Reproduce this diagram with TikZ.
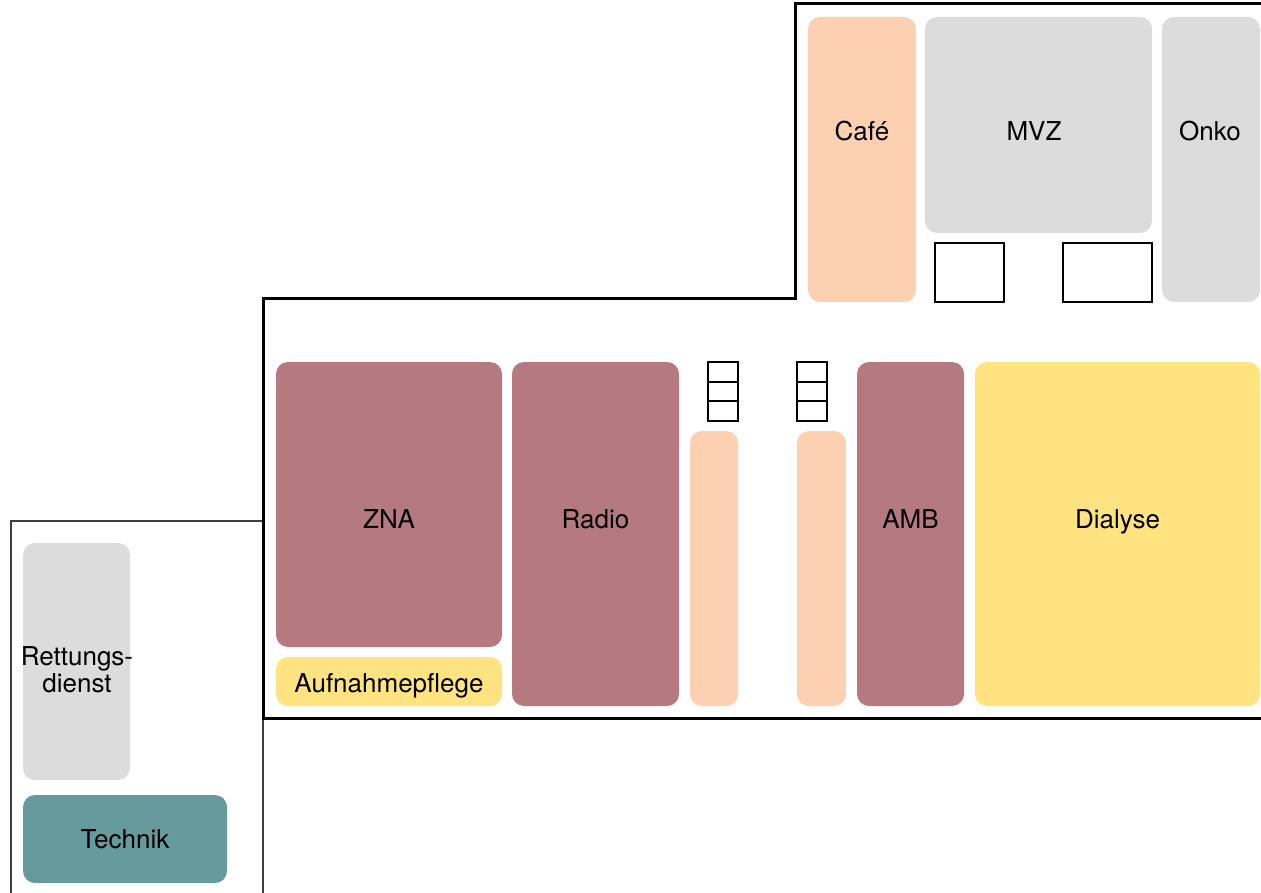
\documentclass[tikz,border=0pt]{standalone}
\usepackage{fontspec}
\setmainfont{TeX Gyre Heros}

\definecolor{roomMauve}{HTML}{B57A7F}
\definecolor{roomPeach}{HTML}{FDD0B2}
\definecolor{roomGray}{HTML}{DCDCDC}
\definecolor{roomYellow}{HTML}{FEE380}
\definecolor{roomTeal}{HTML}{679A9C}

\begin{document}
\begin{tikzpicture}[x=1pt,y=-1pt,
	room/.style={rounded corners=12pt, inner sep=0pt, fill=#1},
	dims/.style 2 args={minimum width=#1pt, minimum height=#2pt},
	roomtext/.style={font=\fontsize{26}{27}\selectfont, align=center, inner sep=0pt},
	oneline/.style={text height=18.6pt, text depth=0pt},
	wall/.style={line width=3pt},
	annex/.style={line width=1.5pt, draw=black!75},
	boxline/.style={line width=2.4pt}]
		\useasboundingbox (0,0) rectangle (1261,893);
		% Gebaeude
		\draw[annex] (11,893) -- (11,521) -- (263,521);
		\draw[annex] (263,718) -- (263,893);
		\draw[wall] (1262,718) -- (263,718) -- (263,299) -- (795,299) -- (795,4) -- (1262,4);
		% oberer Teil
		\node[room=roomPeach, dims={108}{285}] (cafe) at (862,159.5) {};
		\node[room=roomGray, dims={227}{216}] (mvz) at (1038.5,125) {};
		\node[room=roomGray, dims={98}{285}] (onko) at (1211,159.5) {};
		\node[draw, boxline, inner sep=0pt, dims={69}{59}] (lift1) at (969.5,272.5) {};
		\node[draw, boxline, inner sep=0pt, dims={89}{59}] (lift2) at (1107.5,272.5) {};
		\node[roomtext, oneline] (cafe-t) at (862,131) {Café};
		\node[roomtext, oneline] (mvz-t) at (1034,131) {MVZ};
		\node[roomtext, oneline] (onko-t) at (1210,131) {Onko};
		% unterer Teil
		\node[room=roomMauve, dims={226}{285}] (zna) at (389,504.5) {};
		\node[room=roomYellow, dims={226}{49}] (aufnahme) at (389,681.5) {};
		\node[room=roomMauve, dims={167}{344}] (radio) at (595.5,534) {};
		\node[room=roomPeach, dims={48}{275}] (flur1) at (714,568.5) {};
		\node[room=roomPeach, dims={49}{275}] (flur2) at (821.5,568.5) {};
		\node[room=roomMauve, dims={107}{344}] (amb) at (910.5,534) {};
		\node[room=roomYellow, dims={285}{344}] (dialyse) at (1117.5,534) {};
		\foreach \sx in {708,797}{
			\draw[boxline] (\sx,362) rectangle ++(30,59);
			\draw[boxline] (\sx,382) -- ++(30,0) (\sx,401) -- ++(30,0);
		}
		\node[roomtext, oneline] (zna-t) at (389,519) {ZNA};
		\node[roomtext, oneline] (aufnahme-t) at (389,683) {Aufnahmepflege};
		\node[roomtext, oneline] (radio-t) at (595.5,519) {Radio};
		\node[roomtext, oneline] (amb-t) at (910.5,519) {AMB};
		\node[roomtext, oneline] (dialyse-t) at (1117.5,519) {Dialyse};
		% Anbau
		\node[room=roomGray, dims={107}{237}] (rett) at (76.5,661.5) {};
		\node[room=roomTeal, dims={204}{88}] (technik) at (125,839) {};
		\node[roomtext] (rett-t) at (77,670) {Rettungs-\\dienst};
		\node[roomtext, oneline] (technik-t) at (125,839) {Technik};
	\end{tikzpicture}
\end{document}
